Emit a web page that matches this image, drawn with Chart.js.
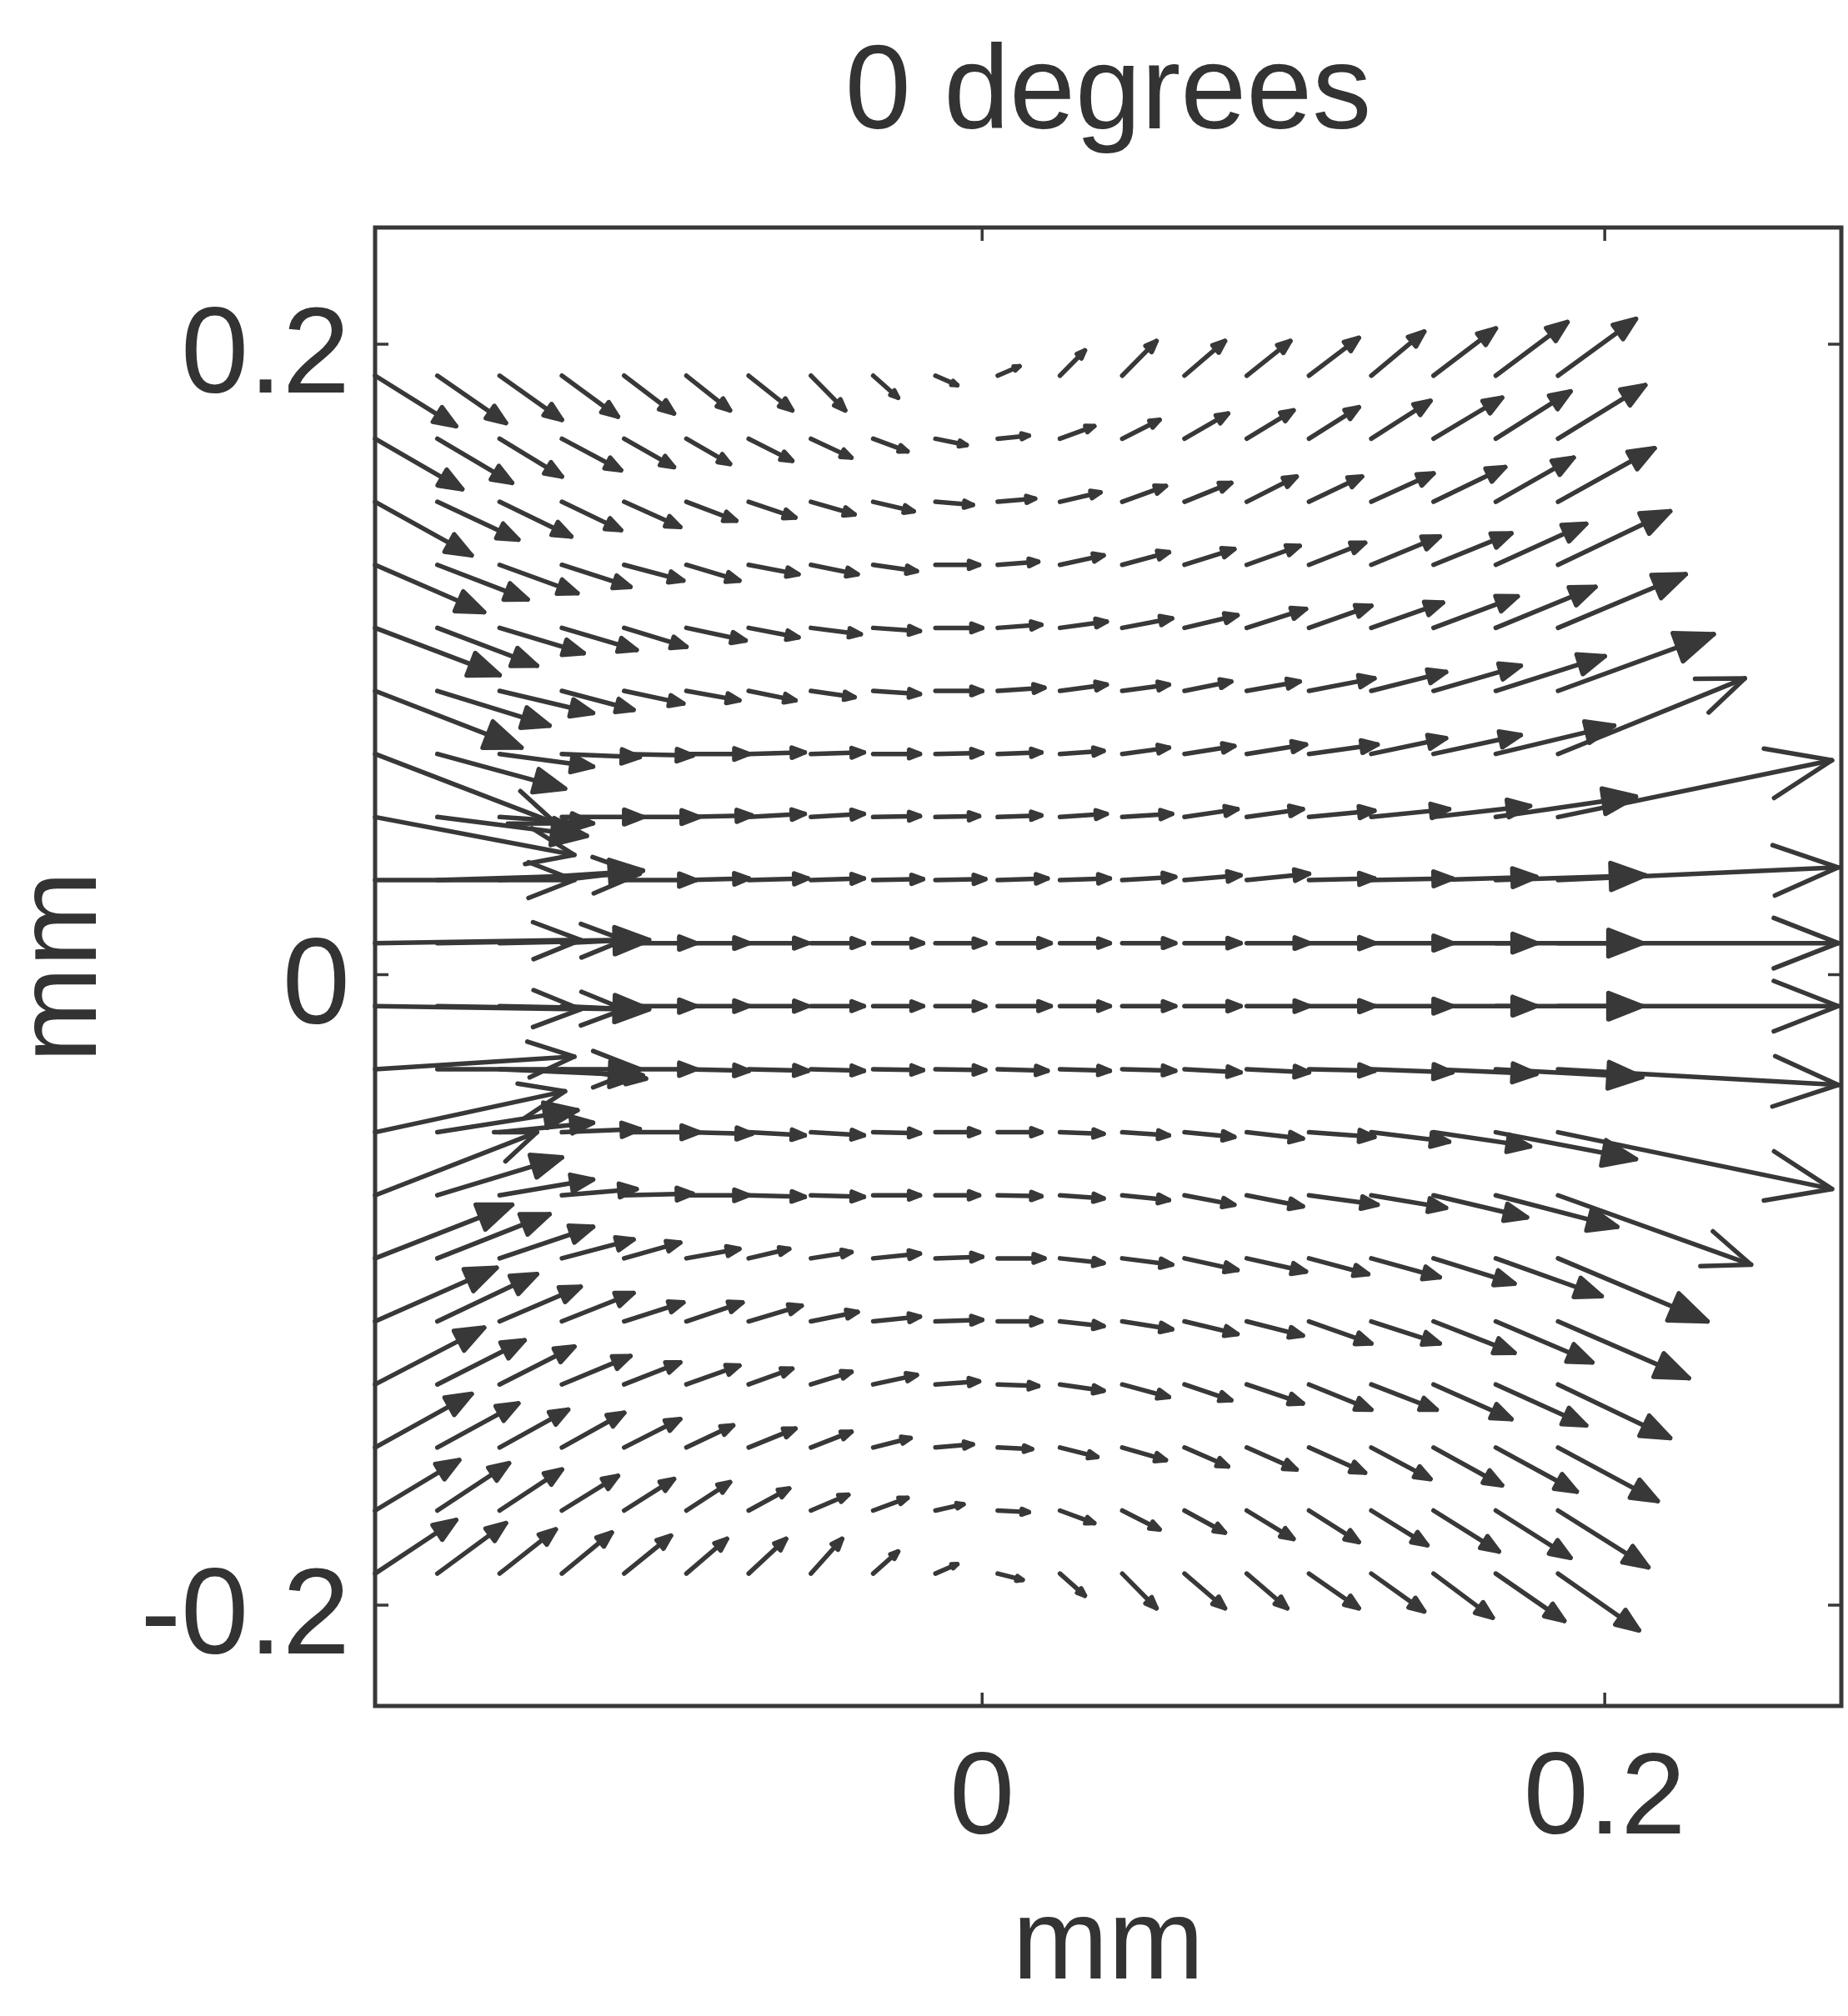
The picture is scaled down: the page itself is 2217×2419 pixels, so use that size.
<!DOCTYPE html>
<html>
<head>
<meta charset="utf-8">
<title>0 degrees</title>
<script src="https://cdn.jsdelivr.net/npm/chart.js@4.4.1/dist/chart.umd.min.js"></script>
<style>
  html, body { margin: 0; padding: 0; background: #fff; }
  #wrap { width: 2217px; height: 2419px; position: relative; }
</style>
</head>
<body>
<div id="wrap"><canvas id="quiver"></canvas></div>
<script>
// grid positions of the arrow tails (mm)
const xGrid = [-0.195, -0.175, -0.155, -0.135, -0.115, -0.095, -0.075, -0.055, -0.035, -0.015,
               0.005, 0.025, 0.045, 0.065, 0.085, 0.105, 0.125, 0.145, 0.165, 0.185];
const yGrid = [0.19, 0.17, 0.15, 0.13, 0.11, 0.09, 0.07, 0.05, 0.03, 0.01,
               -0.01, -0.03, -0.05, -0.07, -0.09, -0.11, -0.13, -0.15, -0.17, -0.19];

// arrow components in micrometres, one list per row (top row first)
const uRows = [
  [26,22,20,18,16,14,14,11,8,7,7,8,11,13,14,16,17,20,23,25],
  [28,24,20,19,16,14,14,13,11,10,10,11,12,14,15,16,19,22,24,28],
  [31,26,23,19,18,16,15,14,13,12,12,13,14,15,16,17,20,23,25,31],
  [35,29,25,22,19,17,16,15,14,14,13,14,15,16,17,18,22,25,29,36],
  [40,32,27,24,20,19,16,16,15,15,14,15,16,17,19,20,23,27,32,41],
  [47,36,30,23,19,17,15,14,15,15,15,15,15,15,17,21,24,28,35,50],
  [58,41,30,25,22,20,18,17,15,15,14,14,15,16,19,22,24,28,38,60],
  [64,48,30,26,24,21,18,17,15,14,14,15,16,17,18,21,25,31,45,88],
  [64,65,46,26,23,20,19,17,16,16,16,16,17,18,20,21,26,33,48,90],
  [66,60,48,22,23,20,19,17,16,16,17,16,17,18,20,21,26,33,47,90],
  [66,60,48,22,23,20,19,17,16,16,17,16,17,18,20,21,26,33,47,90],
  [64,65,46,27,23,20,19,17,16,16,16,16,17,18,20,21,26,33,47,90],
  [61,45,30,25,24,21,18,17,15,14,14,14,15,16,18,21,25,31,45,88],
  [52,40,30,24,22,20,18,17,15,14,14,14,15,16,18,22,24,30,39,62],
  [44,36,30,23,18,17,13,13,15,15,15,14,16,17,19,19,22,26,34,48],
  [39,32,26,23,19,18,17,15,15,15,14,14,16,17,18,20,22,26,31,42],
  [35,28,24,22,18,17,14,13,14,14,13,14,15,15,18,20,21,25,29,36],
  [31,26,22,20,18,15,15,13,12,12,11,12,14,14,16,18,19,22,26,32],
  [27,23,20,18,16,14,13,12,11,9,10,11,12,13,15,16,18,21,24,29],
  [26,22,18,16,15,13,12,10,8,7,8,8,11,13,13,16,17,19,22,26]
];
const vRows = [
  [-16,-15,-14,-13,-12,-11,-11,-11,-7,-3,3,8,11,11,11,12,14,15,17,18],
  [-16,-14,-12,-10,-9,-8,-7,-6,-4,-2,1,4,6,8,9,10,12,13,15,17],
  [-17,-12,-11,-9,-8,-6,-5,-4,-3,-1,1,3,5,6,8,8,9,11,14,17],
  [-15,-11,-9,-7,-5,-5,-3,-3,-2,0,1,3,4,5,6,7,9,10,13,17],
  [-15,-12,-8,-7,-6,-4,-3,-2,-1,0,1,2,3,4,6,7,8,10,13,17],
  [-18,-11,-7,-6,-4,-3,-3,-2,-1,0,1,2,2,3,3,4,6,8,11,18],
  [-22,-11,-4,-1,-0.5,0,0.5,0.5,0,0.3,0.5,1,2,2.5,3,3,5,6,9,24],
  [-12,-6,-2,0,0,0.5,1,1,0.3,0.3,0.5,1,1,2.5,2.5,2,2.5,3.5,6.5,18],
  [0,2,3,3,0,0.5,0.5,0.5,0.3,0.3,0.5,0.5,1,1.5,2,0.5,0.5,1,1.5,4],
  [1,1,1,1,0,0,0,0,0,0,0,0,0,0,0,0,0,0,0,0],
  [-1,-1,-1,-1,0,0,0,0,0,0,0,0,0,0,0,0,0,0,0,0],
  [4,0,-2,-3,0,-0.5,-0.5,-0.5,-0.3,-0.3,-0.5,-0.5,-0.5,-1,-1,-0.5,-1,-1.5,-2.5,-5],
  [13,7,3,1,0,-0.5,-1,-1,-0.3,0,0,-0.5,-1,-1.5,-2,-1.5,-3,-4.5,-8.5,-18],
  [20,12,5,2,0.5,0,-0.5,-0.5,0,0,-0.3,-1,-1.5,-3,-3.5,-3,-4,-7,-10,-22],
  [17,14,10,6,5,3,3,2,1.5,0.5,0,-1.5,-2,-3.7,-4.2,-5,-6,-8,-12,-20],
  [17,15,11,9,6,6,5,3,1.5,0.5,0,-1.5,-2.5,-4,-4.5,-7,-7,-10,-13,-18],
  [18,14,12,9,7,6,5,4,3,1,-0.5,-2,-4,-5,-6,-8,-8,-11,-13,-17],
  [17,14,12,11,9,7,6,5,3,1,-0.5,-3,-4,-6,-7,-8,-10,-12,-14,-17],
  [16,15,13,11,10,9,7,5,4,2,-0.5,-4,-6,-7,-9,-10,-11,-13,-15,-18],
  [17,16,14,13,12,11,11,11,7,3,-2,-7,-11,-11,-11,-11,-12,-14,-15,-18]
];

const xTicks = [0, 0.2];
const yTicks = [-0.2, 0, 0.2];
const xRange = [-0.195, 0.276];
const yRange = [-0.232, 0.237];

const ink = '#383838';
const fontFamily = "'Liberation Sans', Arial, Helvetica, sans-serif";

// one point per arrow tail, arrow components carried along in mm
const points = [];
yGrid.forEach((y, r) => {
    xGrid.forEach((x, k) => {
        points.push({ x: x, y: y, u: uRows[r][k] / 1000, v: vRows[r][k] / 1000 });
    });
});

// quiver arrows: shaft plus head, like the old matlab quiver
const quiverArrows = {
    id: 'quiverArrows',
    afterDatasetsDraw(chart) {
        const ctx = chart.ctx;
        const xs = chart.scales.x;
        const ys = chart.scales.y;
        ctx.save();
        ctx.strokeStyle = ink;
        ctx.fillStyle = ink;
        ctx.lineWidth = 5.5;
        ctx.lineCap = 'round';
        ctx.lineJoin = 'round';
        chart.data.datasets[0].data.forEach(p => {
            const x0 = xs.getPixelForValue(p.x);
            const y0 = ys.getPixelForValue(p.y);
            const x1 = xs.getPixelForValue(p.x + p.u);
            const y1 = ys.getPixelForValue(p.y + p.v);
            const dx = x1 - x0, dy = y1 - y0;
            const len = Math.hypot(dx, dy);
            const bx = 0.23 * dx, by = 0.23 * dy;   // back along the shaft
            const sx = -0.09 * dy, sy = 0.09 * dx;  // sideways
            ctx.beginPath();
            ctx.moveTo(x0, y0);
            ctx.lineTo(x1, y1);
            ctx.stroke();
            ctx.beginPath();
            ctx.moveTo(x1 - bx + sx, y1 - by + sy);
            ctx.lineTo(x1, y1);
            ctx.lineTo(x1 - bx - sx, y1 - by - sy);
            if (len < 200) {
                // short arrows: the head prints as a solid blob
                ctx.closePath();
                ctx.fill();
            }
            ctx.stroke();
        });
        ctx.restore();
    }
};

// frame round the plot and inward tick marks on all four sides
const boxAndTicks = {
    id: 'boxAndTicks',
    afterDraw(chart) {
        const ctx = chart.ctx;
        const a = chart.chartArea;
        const tl = 16;
        ctx.save();
        ctx.strokeStyle = ink;
        ctx.lineWidth = 5;
        ctx.strokeRect(a.left, a.top, a.right - a.left, a.bottom - a.top);
        ctx.lineWidth = 3.5;
        ctx.beginPath();
        chart.scales.x.ticks.forEach(t => {
            const px = chart.scales.x.getPixelForValue(t.value);
            ctx.moveTo(px, a.bottom); ctx.lineTo(px, a.bottom - tl);
            ctx.moveTo(px, a.top); ctx.lineTo(px, a.top + tl);
        });
        chart.scales.y.ticks.forEach(t => {
            const py = chart.scales.y.getPixelForValue(t.value);
            ctx.moveTo(a.left, py); ctx.lineTo(a.left + tl, py);
            ctx.moveTo(a.right, py); ctx.lineTo(a.right - tl, py);
        });
        ctx.stroke();
        ctx.restore();
    }
};

const xTickFont = { family: fontFamily, size: 140, weight: 'normal', lineHeight: 1 };
const yTickFont = { family: fontFamily, size: 146, weight: 'normal', lineHeight: 1 };
const axisTitleFont = { family: fontFamily, size: 138, weight: 'normal', lineHeight: 1 };

new Chart(document.getElementById('quiver'), {
    type: 'scatter',
    data: {
        datasets: [{
            data: points,
            pointRadius: 0,
            showLine: false
        }]
    },
    options: {
        responsive: true,
        maintainAspectRatio: false,
        animation: false,
        layout: { padding: { top: 0, right: 8, bottom: 0, left: 0 } },
        plugins: {
            legend: { display: false },
            tooltip: { enabled: false },
            title: {
                display: true,
                text: '0 degrees',
                fullSize: false,
                color: '#333',
                font: { family: fontFamily, size: 142, weight: 'normal', lineHeight: 1 },
                padding: { top: 44, bottom: 87 }
            }
        },
        scales: {
            x: {
                type: 'linear',
                min: xRange[0],
                max: xRange[1],
                grid: { display: false, drawTicks: false },
                border: { display: false },
                afterBuildTicks: s => { s.ticks = xTicks.map(v => ({ value: v })); },
                afterFit: s => { s.height = 372; },
                ticks: {
                    font: xTickFont,
                    color: '#333',
                    padding: 44,
                    autoSkip: false,
                    maxRotation: 0,
                    callback: v => String(v)
                },
                title: {
                    display: true,
                    text: 'mm',
                    color: '#333',
                    font: axisTitleFont,
                    padding: { top: 0, bottom: 14 }
                }
            },
            y: {
                type: 'linear',
                min: yRange[0],
                max: yRange[1],
                grid: { display: false, drawTicks: false },
                border: { display: false },
                afterBuildTicks: s => { s.ticks = yTicks.map(v => ({ value: v })); },
                afterFit: s => { s.width = 450; },
                ticks: {
                    font: yTickFont,
                    color: '#333',
                    padding: 30,
                    labelOffset: 18,
                    autoSkip: false,
                    callback: v => String(v)
                },
                title: {
                    display: true,
                    text: 'mm',
                    color: '#333',
                    font: axisTitleFont,
                    padding: { top: 8, bottom: 0 }
                }
            }
        }
    },
    plugins: [quiverArrows, boxAndTicks]
});
</script>
</body>
</html>
